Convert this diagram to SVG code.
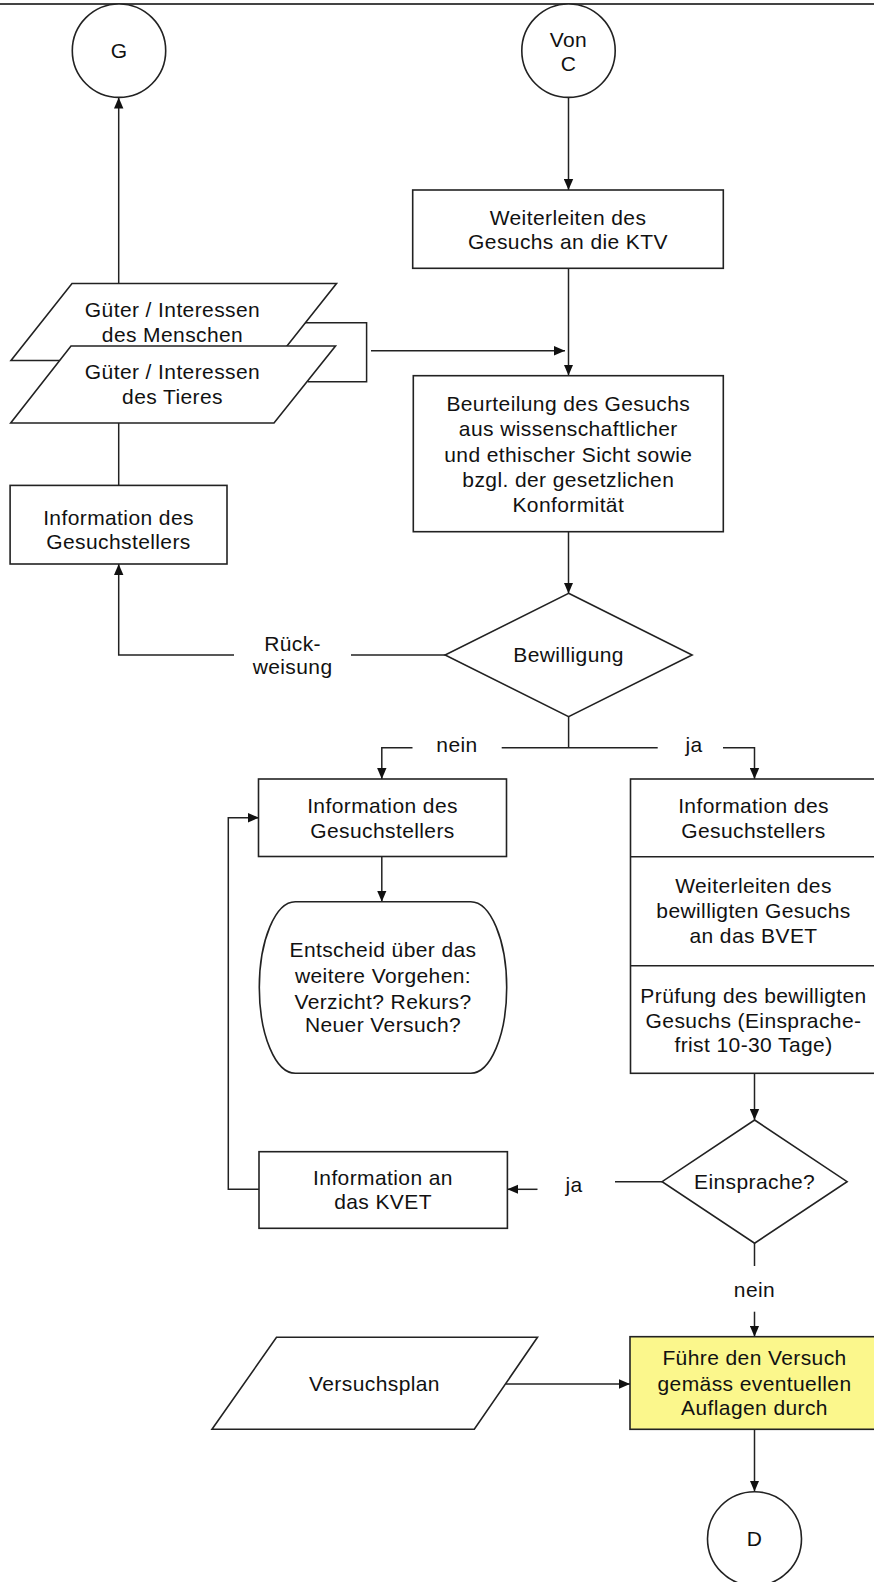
<svg xmlns="http://www.w3.org/2000/svg" width="874" height="1582" viewBox="0 0 874 1582">
  <defs>
    <marker id="arrow" markerUnits="userSpaceOnUse" markerWidth="11" markerHeight="10" refX="11" refY="5" orient="auto">
      <path d="M0,0.3 L11,5 L0,9.7 Z" fill="#111"/>
    </marker>
    <style>
      .shape { fill: #fff; stroke: #222; stroke-width: 1.6; }
      .note { fill: #fbf78c; stroke: #222; stroke-width: 1.6; }
      .line { fill: none; stroke: #222; stroke-width: 1.5; }
      .arr { marker-end: url(#arrow); }
      text { font-family: "Liberation Sans", Arial, Helvetica, sans-serif; font-size: 21px; letter-spacing: 0.4px; fill: #111; text-anchor: middle; }
    </style>
  </defs>

  <rect x="0" y="0" width="874" height="1582" fill="#fff"/>
  <!-- page rule -->
  <line x1="0" y1="4" x2="874" y2="4" stroke="#444" stroke-width="2"/>

  <!-- connectors -->
  <g id="connectors">
    <line class="line arr" x1="568.5" y1="98" x2="568.5" y2="190"/>
    <line class="line arr" x1="568.5" y1="268.5" x2="568.5" y2="375.5"/>
    <line class="line arr" x1="568.5" y1="531.5" x2="568.5" y2="593.5"/>
    <polyline class="line" points="305,322.7 366.6,322.7 366.6,381.7 307.7,381.7"/>
    <line class="line arr" x1="371" y1="350.7" x2="565" y2="350.7"/>
    <line class="line arr" x1="118.7" y1="283.5" x2="118.7" y2="97.5"/>
    <line class="line" x1="118.7" y1="423" x2="118.7" y2="485.5"/>
    <line class="line" x1="446" y1="655" x2="351" y2="655"/>
    <polyline class="line arr" points="234,655 118.7,655 118.7,564"/>
    <line class="line" x1="568.6" y1="716.7" x2="568.6" y2="747.7"/>
    <line class="line" x1="501.7" y1="747.7" x2="657.7" y2="747.7"/>
    <polyline class="line arr" points="412.5,747.7 381.8,747.7 381.8,779"/>
    <polyline class="line arr" points="723,747.7 754.5,747.7 754.5,779"/>
    <line class="line arr" x1="381.8" y1="856.5" x2="381.8" y2="901.7"/>
    <line class="line arr" x1="754.5" y1="1073.3" x2="754.5" y2="1120"/>
    <line class="line" x1="662" y1="1181.7" x2="615" y2="1181.7"/>
    <line class="line arr" x1="537.5" y1="1189.3" x2="507.4" y2="1189.3"/>
    <polyline class="line arr" points="259,1189.3 228.3,1189.3 228.3,817.7 259,817.7"/>
    <line class="line" x1="754.5" y1="1243" x2="754.5" y2="1266"/>
    <line class="line arr" x1="754.5" y1="1311.7" x2="754.5" y2="1336.7"/>
    <line class="line arr" x1="506" y1="1384" x2="630" y2="1384"/>
    <line class="line arr" x1="754.5" y1="1429.3" x2="754.5" y2="1491.5"/>
  </g>

  <!-- connector labels -->
  <g id="labels">
    <text x="292.6" y="651">Rück-</text>
    <text x="292.6" y="674">weisung</text>
    <text x="457" y="752">nein</text>
    <text x="694" y="752">ja</text>
    <text x="574" y="1192">ja</text>
    <text x="754.5" y="1297">nein</text>
  </g>

  <g id="node-g">
    <circle class="shape" cx="119" cy="50.7" r="46.7"/>
    <text x="119" y="58">G</text>
  </g>

  <g id="node-von-c">
    <circle class="shape" cx="568.5" cy="50.7" r="46.7"/>
    <text x="568.5" y="47">Von</text>
    <text x="568.5" y="70.5">C</text>
  </g>

  <g id="node-weiterleiten-ktv">
    <rect class="shape" x="412.7" y="190" width="310.6" height="78.3"/>
    <text x="568" y="225">Weiterleiten des</text>
    <text x="568" y="249">Gesuchs an die KTV</text>
  </g>

  <g id="node-gueter-mensch">
    <polygon class="shape" points="72,283.5 336.5,283.5 275.5,360.5 11,360.5"/>
    <text x="172.5" y="317">Güter / Interessen</text>
    <text x="172.5" y="342">des Menschen</text>
  </g>

  <g id="node-gueter-tier">
    <polygon class="shape" points="71,346 335.5,346 274,423 10.7,423"/>
    <text x="172.5" y="378.7">Güter / Interessen</text>
    <text x="172.5" y="403.7">des Tieres</text>
  </g>

  <g id="node-beurteilung">
    <rect class="shape" x="413.3" y="375.7" width="310" height="156"/>
    <text x="568.3" y="411">Beurteilung des Gesuchs</text>
    <text x="568.3" y="436.3">aus wissenschaftlicher</text>
    <text x="568.3" y="461.5">und ethischer Sicht sowie</text>
    <text x="568.3" y="486.8">bzgl. der gesetzlichen</text>
    <text x="568.3" y="512">Konformität</text>
  </g>

  <g id="node-info-rueckweisung">
    <rect class="shape" x="10.1" y="485.4" width="216.9" height="78.6"/>
    <text x="118.5" y="524.7">Information des</text>
    <text x="118.5" y="549">Gesuchstellers</text>
  </g>

  <g id="node-bewilligung">
    <polygon class="shape" points="568.6,593.3 692.1,655 568.6,716.7 445.1,655"/>
    <text x="568.6" y="662">Bewilligung</text>
  </g>

  <g id="node-info-nein">
    <rect class="shape" x="258.5" y="779" width="248" height="77.5"/>
    <text x="382.5" y="813">Information des</text>
    <text x="382.5" y="838">Gesuchstellers</text>
  </g>

  <g id="node-entscheid">
    <rect class="shape" x="259.3" y="901.7" width="247.4" height="171.6" rx="36" ry="85.8"/>
    <text x="383" y="957">Entscheid über das</text>
    <text x="383" y="983">weitere Vorgehen:</text>
    <text x="383" y="1008.5">Verzicht? Rekurs?</text>
    <text x="383" y="1032">Neuer Versuch?</text>
  </g>

  <g id="node-info-ja">
    <rect class="shape" x="630.5" y="779" width="247" height="294.3"/>
    <line class="line" x1="630.5" y1="856.7" x2="877.5" y2="856.7"/>
    <line class="line" x1="630.5" y1="965.7" x2="877.5" y2="965.7"/>
    <text x="753.5" y="813">Information des</text>
    <text x="753.5" y="838">Gesuchstellers</text>
    <text x="753.5" y="893">Weiterleiten des</text>
    <text x="753.5" y="918">bewilligten Gesuchs</text>
    <text x="753.5" y="943">an das BVET</text>
    <text x="753.5" y="1003">Prüfung des bewilligten</text>
    <text x="753.5" y="1028">Gesuchs (Einsprache-</text>
    <text x="753.5" y="1052">frist 10-30 Tage)</text>
  </g>

  <g id="node-einsprache">
    <polygon class="shape" points="754.6,1120 847.1,1181.7 754.6,1243.2 662.1,1181.7"/>
    <text x="754.6" y="1188.5">Einsprache?</text>
  </g>

  <g id="node-info-kvet">
    <rect class="shape" x="259" y="1151.7" width="248.4" height="76.6"/>
    <text x="383" y="1185">Information an</text>
    <text x="383" y="1209">das KVET</text>
  </g>

  <g id="node-versuchsplan">
    <polygon class="shape" points="276.5,1337.3 537.5,1337.3 474.3,1429.3 212,1429.3"/>
    <text x="374.5" y="1391">Versuchsplan</text>
  </g>

  <g id="node-versuch">
    <rect class="note" x="630" y="1336.7" width="247.5" height="92.6"/>
    <text x="754.5" y="1365">Führe den Versuch</text>
    <text x="754.5" y="1391">gemäss eventuellen</text>
    <text x="754.5" y="1415">Auflagen durch</text>
  </g>

  <g id="node-d">
    <circle class="shape" cx="754.5" cy="1538.7" r="47"/>
    <text x="754.5" y="1546">D</text>
  </g>
</svg>
